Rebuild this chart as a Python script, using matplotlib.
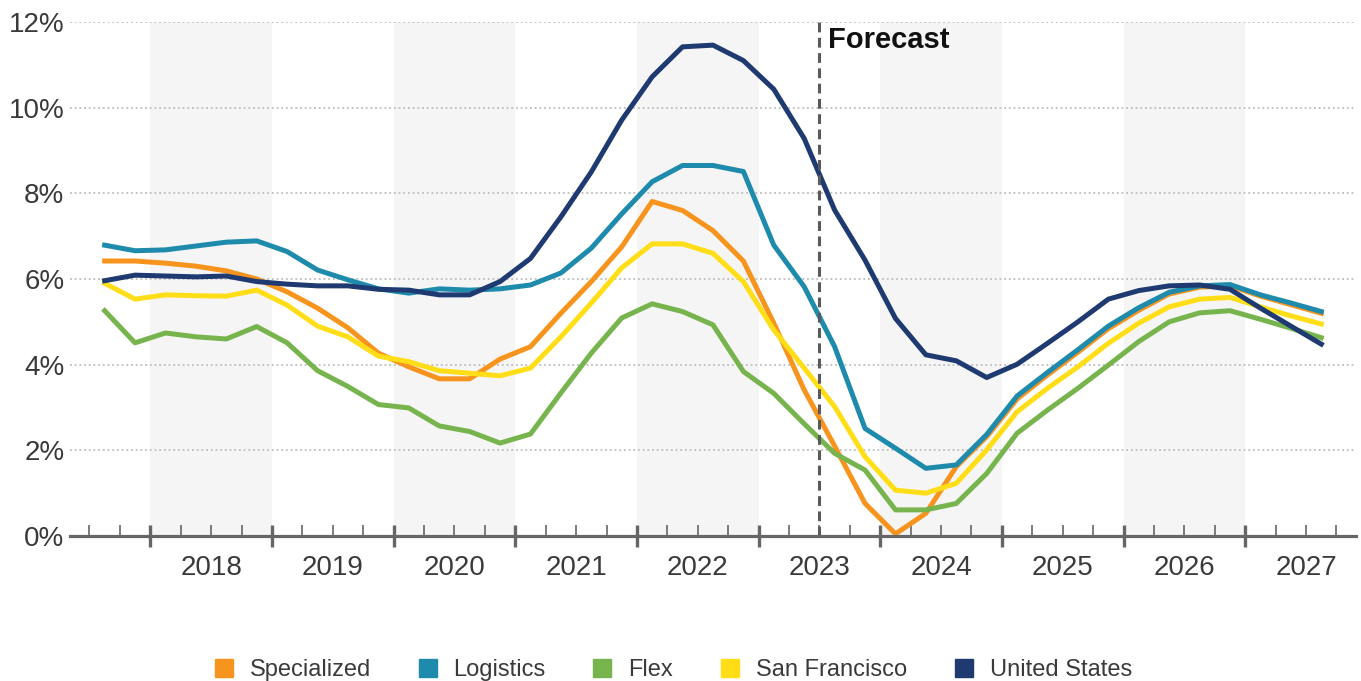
"""Industrial vacancy-style rate comparison by segment, quarterly with forecast."""

import matplotlib

matplotlib.use("Agg")
import matplotlib.pyplot as plt
from matplotlib.lines import Line2D
from matplotlib.ticker import FixedLocator, FuncFormatter
import numpy as np
import pandas as pd

plt.rcParams["font.family"] = ["Liberation Sans", "DejaVu Sans"]

# quarterly series, 2017Q3 .. 2027Q3 (percent)
QUARTERS = pd.period_range("2017Q3", "2027Q3", freq="Q")

SPECIALIZED = [
    6.42, 6.42, 6.37, 6.30, 6.19, 6.00, 5.70, 5.32, 4.86, 4.27,
    3.95, 3.67, 3.67, 4.13, 4.42, 5.20, 5.94, 6.75, 7.81, 7.60,
    7.13, 6.42, 4.97, 3.41, 2.10, 0.76, 0.05, 0.53, 1.62, 2.32,
    3.20, 3.76, 4.29, 4.84, 5.27, 5.65, 5.81, 5.84, 5.60, 5.40,
    5.20,
]
LOGISTICS = [
    6.79, 6.66, 6.68, 6.77, 6.86, 6.89, 6.64, 6.21, 5.98, 5.77,
    5.67, 5.77, 5.74, 5.77, 5.86, 6.14, 6.72, 7.52, 8.27, 8.65,
    8.65, 8.51, 6.79, 5.82, 4.42, 2.51, 2.05, 1.58, 1.66, 2.37,
    3.27, 3.82, 4.35, 4.90, 5.33, 5.69, 5.84, 5.87, 5.63, 5.44,
    5.24,
]
FLEX = [
    5.26, 4.51, 4.74, 4.65, 4.60, 4.89, 4.51, 3.86, 3.49, 3.07,
    2.99, 2.57, 2.44, 2.17, 2.38, 3.34, 4.27, 5.09, 5.42, 5.24,
    4.93, 3.84, 3.33, 2.62, 1.93, 1.54, 0.61, 0.61, 0.76, 1.46,
    2.40, 2.94, 3.45, 3.99, 4.54, 5.00, 5.21, 5.26, 5.06, 4.85,
    4.63,
]
SAN_FRANCISCO = [
    5.90, 5.53, 5.63, 5.61, 5.60, 5.74, 5.39, 4.90, 4.65, 4.20,
    4.07, 3.86, 3.80, 3.74, 3.92, 4.65, 5.44, 6.26, 6.82, 6.82,
    6.60, 5.94, 4.81, 3.92, 3.02, 1.85, 1.07, 1.00, 1.23, 2.01,
    2.90, 3.45, 3.95, 4.50, 4.97, 5.35, 5.53, 5.57, 5.35, 5.14,
    4.95,
]
UNITED_STATES = [
    5.96, 6.09, 6.07, 6.05, 6.07, 5.94, 5.88, 5.84, 5.84, 5.76,
    5.74, 5.63, 5.63, 5.94, 6.48, 7.45, 8.50, 9.71, 10.72, 11.42,
    11.46, 11.10, 10.43, 9.28, 7.61, 6.44, 5.08, 4.23, 4.09, 3.70,
    4.01, 4.50, 5.00, 5.53, 5.73, 5.84, 5.86, 5.76, 5.32, 4.90,
    4.48,
]

SERIES = ["Specialized", "Logistics", "Flex", "San Francisco", "United States"]
VALUES = [SPECIALIZED, LOGISTICS, FLEX, SAN_FRANCISCO, UNITED_STATES]
COLORS = ["#F7941D", "#1F8BAC", "#78B44E", "#FFDE17", "#1E3A70"]

YEARS = list(range(2018, 2028))
SHADED_YEARS = [2018, 2020, 2022, 2024, 2026]
FORECAST_START = 2023.5


def quarter_position(periods: pd.PeriodIndex) -> np.ndarray:
    # middle of each quarter, as a decimal year
    return periods.year + (periods.quarter - 0.5) / 4.0


def year_label(v: float, _: int) -> str:
    # only the mid-year quarter edge carries the year name
    if abs(v % 1 - 0.5) < 1e-6 and int(v) in YEARS:
        return f"{int(v)}"
    return ""


def main() -> None:
    fig = plt.figure(figsize=(13.61, 6.81), dpi=100)
    ax = fig.add_axes([0.0514, 0.2129, 0.9449, 0.7548])

    x = quarter_position(QUARTERS)

    for year in SHADED_YEARS:
        ax.axvspan(year, year + 1, color="#F5F5F5", lw=0, zorder=0)

    for name, vals, color in zip(SERIES, VALUES, COLORS):
        ax.plot(x, vals, color=color, lw=3.6, label=name, zorder=3)

    ax.axvline(FORECAST_START, color="#5a5a5a", lw=2.2, ls=(0, (3.2, 1.8)), zorder=4)
    ax.annotate(
        "Forecast",
        xy=(FORECAST_START, 12),
        xytext=(6, -3),
        textcoords="offset points",
        ha="left",
        va="top",
        fontsize=21,
        fontweight="bold",
        color="#111111",
        zorder=5,
    )

    ax.set_xlim(2017.34, 2027.91)
    ax.set_ylim(0, 12)

    ax.set_yticks(np.arange(0, 13, 2))
    ax.yaxis.set_major_formatter(FuncFormatter(lambda v, _: f"{v:.0f}%"))
    ax.tick_params(axis="y", length=0, pad=4, labelsize=20, labelcolor="#3a3a3a")
    ax.grid(axis="y", color="#bdbdbd", lw=1.3, ls=(0, (1, 1.6)), zorder=1)

    # year boundaries as long ticks, quarter boundaries as short ticks,
    # year names sit under the mid-year quarter tick
    ax.xaxis.set_major_locator(FixedLocator(YEARS))
    ax.xaxis.set_major_formatter(FuncFormatter(lambda v, _: ""))
    quarter_edges = np.arange(2017.5, 2027.76, 0.25)
    ax.xaxis.set_minor_locator(FixedLocator(quarter_edges))
    ax.xaxis.set_minor_formatter(FuncFormatter(year_label))
    ax.tick_params(axis="x", which="major", direction="inout", length=16,
                   width=2.4, color="#666666")
    ax.tick_params(axis="x", which="minor", direction="in", length=8,
                   width=1.2, color="#666666", pad=14, labelsize=20,
                   labelcolor="#3a3a3a")

    for side in ["left", "right", "top"]:
        ax.spines[side].set_visible(False)
    ax.spines["bottom"].set_color("#666666")
    ax.spines["bottom"].set_linewidth(2.3)
    ax.spines["bottom"].set_zorder(6)

    handles = [
        Line2D([], [], marker="s", ls="none", markersize=12.5,
               markerfacecolor=c, markeredgecolor=c)
        for c in COLORS
    ]
    fig.legend(
        handles,
        SERIES,
        loc="center",
        bbox_to_anchor=(0.4945, 0.016),
        ncol=5,
        frameon=False,
        handlelength=0.8,
        handletextpad=0.7,
        columnspacing=2.0,
        prop={"size": 17},
        labelcolor="#3a3a3a",
    )

    fig.savefig("out.png", dpi=100)
    plt.close(fig)


if __name__ == "__main__":
    main()
